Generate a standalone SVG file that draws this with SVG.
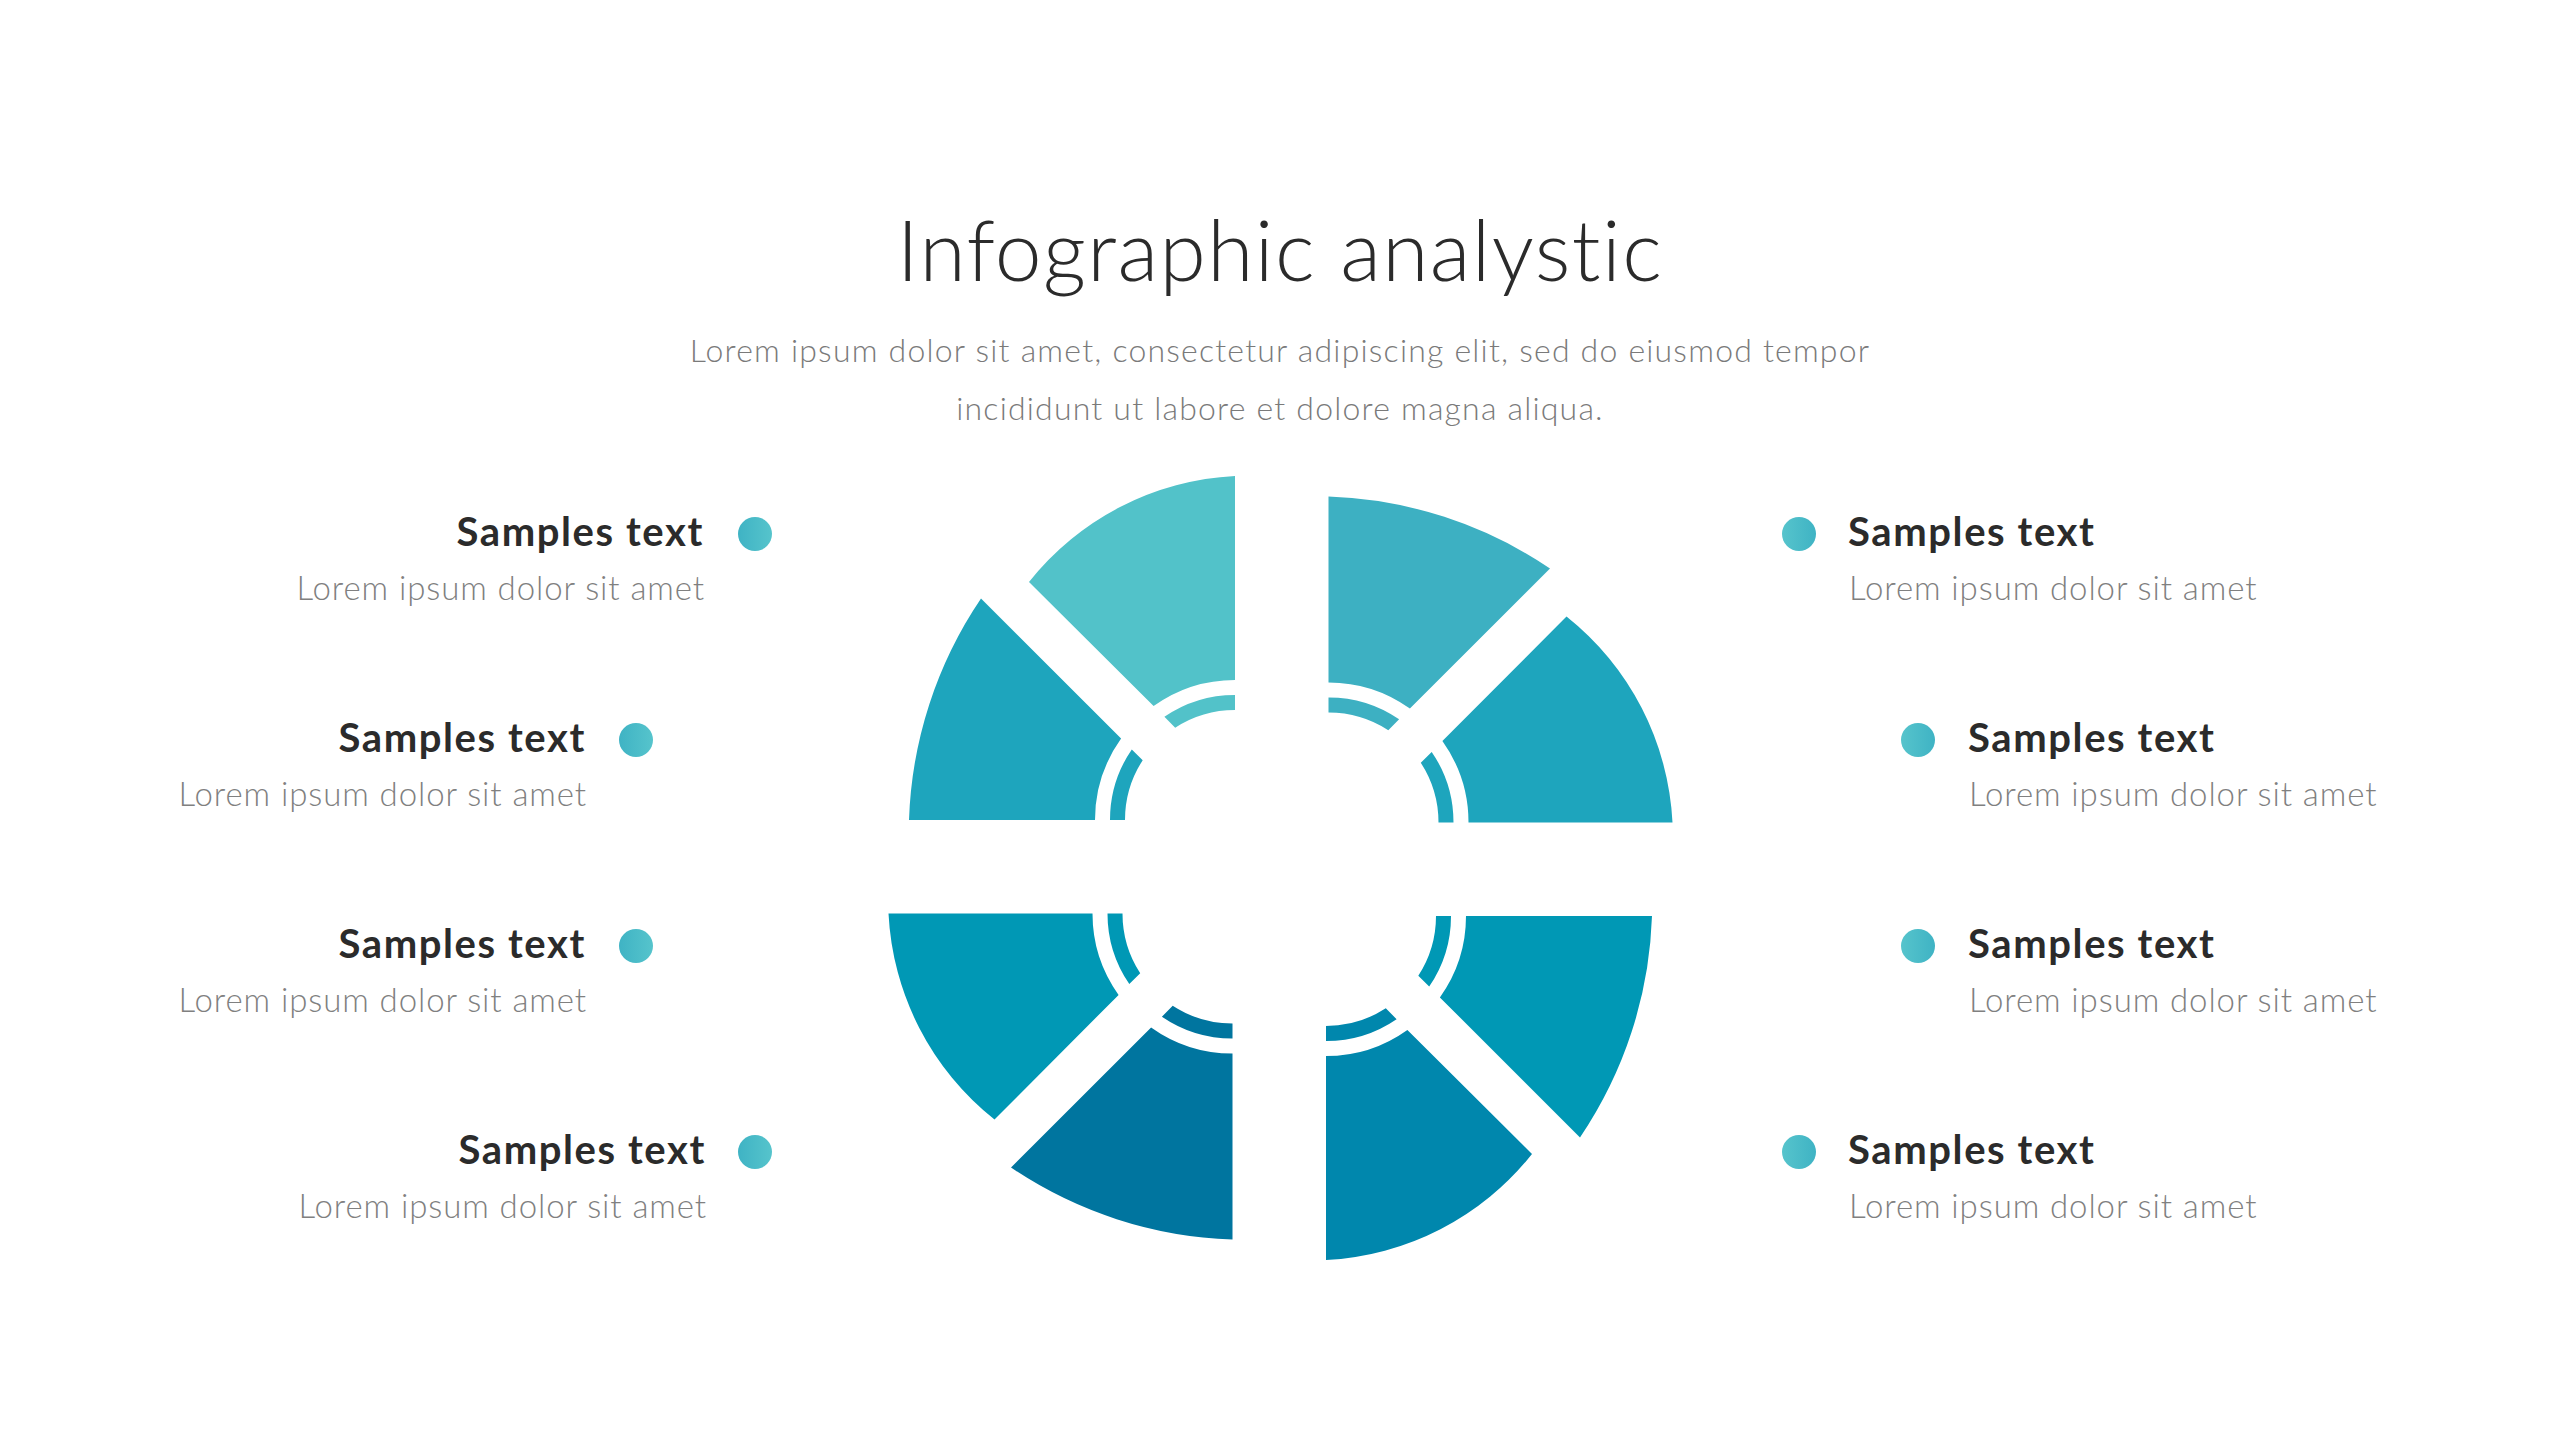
<svg xmlns="http://www.w3.org/2000/svg" xmlns:xlink="http://www.w3.org/1999/xlink" width="2560" height="1440" viewBox="0 0 2560 1440">
  <style>
    .title { font-family: Lato, "Open Sans", "Liberation Sans", sans-serif; font-weight: 300; font-size: 84px; letter-spacing: 1.4px; fill: #2b2b2b; text-anchor: middle; }
    .sub { font-family: Lato, "Open Sans", "Liberation Sans", sans-serif; font-weight: 300; font-size: 32px; letter-spacing: 1.2px; fill: #7a7a7a; text-anchor: middle; }
    .head { font-family: Lato, "Open Sans", "Liberation Sans", sans-serif; font-weight: 700; font-size: 40px; letter-spacing: 1.6px; fill: #2b2b2b; }
    .desc { font-family: Lato, "Open Sans", "Liberation Sans", sans-serif; font-weight: 300; font-size: 33px; letter-spacing: 0.9px; fill: #808080; }
    .end { text-anchor: end; }
    .start { text-anchor: start; }
  </style>
  <defs>
    <linearGradient id="dotL" x1="0" y1="0" x2="1" y2="0">
      <stop offset="0" stop-color="#3fb3c4"/>
      <stop offset="1" stop-color="#56c4cc"/>
    </linearGradient>
    <linearGradient id="dotR" x1="0" y1="0" x2="1" y2="0">
      <stop offset="0" stop-color="#56c4cc"/>
      <stop offset="1" stop-color="#3fb3c4"/>
    </linearGradient>
    <path id="bigPiece" d="M0,-344 A281,281 0 0 0 -206,-238 L-81.4,-113.9 A140,140 0 0 1 0,-140 Z"/>
    <path id="bigArc" d="M0,-125 A125,125 0 0 0 -70.6,-103.2 L-59.8,-92.3 A110,110 0 0 1 0,-110 Z"/>
    <path id="smallPiece" d="M-326,0 A420,420 0 0 1 -254,-221.5 L-113.9,-81.4 A140,140 0 0 0 -140,0 Z"/>
    <path id="smallArc" d="M-125,0 A125,125 0 0 1 -103.2,-70.6 L-92.3,-59.8 A110,110 0 0 0 -110,0 Z"/>
  </defs>
  <rect width="2560" height="1440" fill="#ffffff"/>

  <g id="header">
    <text class="title" x="1280" y="281">Infographic analystic</text>
    <text class="sub" x="1280" y="362">Lorem ipsum dolor sit amet, consectetur adipiscing elit, sed do eiusmod tempor</text>
    <text class="sub" x="1280" y="420">incididunt ut labore et dolore magna aliqua.</text>
  </g>

  <g id="chart">
    <g id="quadrant-top-left" transform="translate(1280.5,868) rotate(0) translate(-45.5,-48)">
      <g id="segment-tl-top"><use xlink:href="#bigPiece" fill="#52c2c9"/><use xlink:href="#bigArc" fill="#52c2c9"/></g>
      <g id="segment-tl-left"><use xlink:href="#smallPiece" fill="#1ea5bd"/><use xlink:href="#smallArc" fill="#1ea5bd"/></g>
    </g>
    <g id="quadrant-top-right" transform="translate(1280.5,868) rotate(90) translate(-45.5,-48)">
      <g id="segment-tr-right"><use xlink:href="#bigPiece" fill="#1ea5bd"/><use xlink:href="#bigArc" fill="#1ea5bd"/></g>
      <g id="segment-tr-top"><use xlink:href="#smallPiece" fill="#3db0c2"/><use xlink:href="#smallArc" fill="#3db0c2"/></g>
    </g>
    <g id="quadrant-bottom-right" transform="translate(1280.5,868) rotate(180) translate(-45.5,-48)">
      <g id="segment-br-bottom"><use xlink:href="#bigPiece" fill="#0087ad"/><use xlink:href="#bigArc" fill="#0087ad"/></g>
      <g id="segment-br-right"><use xlink:href="#smallPiece" fill="#0098b5"/><use xlink:href="#smallArc" fill="#0098b5"/></g>
    </g>
    <g id="quadrant-bottom-left" transform="translate(1280.5,868) rotate(270) translate(-45.5,-48)">
      <g id="segment-bl-left"><use xlink:href="#bigPiece" fill="#0098b5"/><use xlink:href="#bigArc" fill="#0098b5"/></g>
      <g id="segment-bl-bottom"><use xlink:href="#smallPiece" fill="#00759f"/><use xlink:href="#smallArc" fill="#00759f"/></g>
    </g>
  </g>

  <g id="connectors"></g>

  <g id="item-left-1">
    <circle cx="755" cy="534" r="17" fill="url(#dotL)"/>
    <text class="head end" x="704" y="546">Samples text</text>
    <text class="desc end" x="705" y="600">Lorem ipsum dolor sit amet</text>
  </g>
  <g id="item-left-2">
    <circle cx="636" cy="740" r="17" fill="url(#dotL)"/>
    <text class="head end" x="586" y="752">Samples text</text>
    <text class="desc end" x="587" y="806">Lorem ipsum dolor sit amet</text>
  </g>
  <g id="item-left-3">
    <circle cx="636" cy="946" r="17" fill="url(#dotL)"/>
    <text class="head end" x="586" y="958">Samples text</text>
    <text class="desc end" x="587" y="1012">Lorem ipsum dolor sit amet</text>
  </g>
  <g id="item-left-4">
    <circle cx="755" cy="1152" r="17" fill="url(#dotL)"/>
    <text class="head end" x="706" y="1164">Samples text</text>
    <text class="desc end" x="707" y="1218">Lorem ipsum dolor sit amet</text>
  </g>

  <g id="item-right-1">
    <circle cx="1799" cy="534" r="17" fill="url(#dotR)"/>
    <text class="head start" x="1848" y="546">Samples text</text>
    <text class="desc start" x="1849" y="600">Lorem ipsum dolor sit amet</text>
  </g>
  <g id="item-right-2">
    <circle cx="1918" cy="740" r="17" fill="url(#dotR)"/>
    <text class="head start" x="1968" y="752">Samples text</text>
    <text class="desc start" x="1969" y="806">Lorem ipsum dolor sit amet</text>
  </g>
  <g id="item-right-3">
    <circle cx="1918" cy="946" r="17" fill="url(#dotR)"/>
    <text class="head start" x="1968" y="958">Samples text</text>
    <text class="desc start" x="1969" y="1012">Lorem ipsum dolor sit amet</text>
  </g>
  <g id="item-right-4">
    <circle cx="1799" cy="1152" r="17" fill="url(#dotR)"/>
    <text class="head start" x="1848" y="1164">Samples text</text>
    <text class="desc start" x="1849" y="1218">Lorem ipsum dolor sit amet</text>
  </g>
</svg>
